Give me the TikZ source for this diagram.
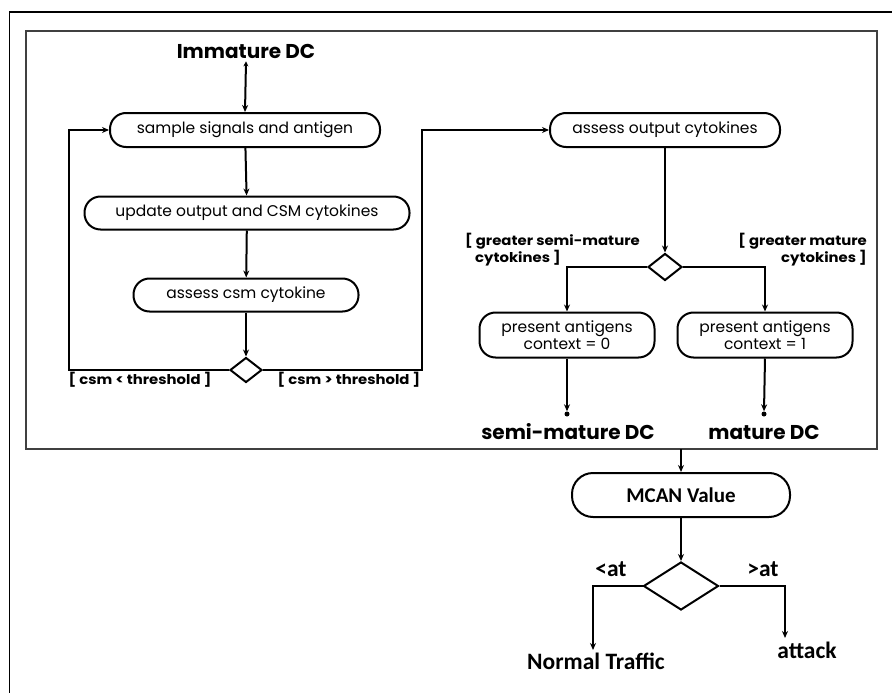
\documentclass[tikz,border=0pt]{standalone}
\usepackage{fontspec}
\usetikzlibrary{shapes.geometric,arrows.meta}
\newfontfamily\gothic{Poppins}
\newfontfamily\gothicw{Poppins}[FakeStretch=1.1]
\newfontfamily\calib{Carlito}
\begin{document}
\begin{tikzpicture}[x=1pt,y=-1pt,
  arr/.style={line width=2pt,-{Stealth[length=7pt,width=6pt]}},
  act/.style={draw,line width=2pt,rectangle,rounded corners=16pt,inner sep=0pt,
    font=\gothic\fontsize{15.5}{17}\selectfont,align=center},
  guard/.style={font=\gothicw\bfseries\fontsize{13.5}{15}\selectfont,inner sep=0pt},
  big/.style={font=\gothic\bfseries\fontsize{20}{22}\selectfont,inner sep=0pt},
  calbig/.style={font=\calib\bfseries\fontsize{23.5}{25}\selectfont,inner sep=0pt},
  dotn/.style={circle,fill,inner sep=0pt,minimum size=5pt}
]
\useasboundingbox (0,0) rectangle (892,693);
% frames
\draw[line width=1.6pt] (9.5,693) -- (9.5,12) -- (892,12);
\draw[line width=2.2pt,black!75] (26,31) rectangle (877,449);

% left column
\node[big] (imm) at (246,51) {Immature DC};
\node[act,minimum width=270pt,minimum height=34pt] (s1) at (245,130) {sample signals and antigen};
\node[act,minimum width=325pt,minimum height=33pt] (s2) at (247,213) {update output and CSM cytokines};
\node[act,minimum width=225pt,minimum height=33pt] (s3) at (246,295) {assess csm cytokine};
\node[draw,line width=2pt,diamond,inner sep=0pt,minimum width=32pt,minimum height=25pt] (d1) at (246,370) {};
\node[guard] (gl) at (140,380) {[ csm < threshold ]};
\node[guard] (gr) at (349,380) {[ csm > threshold ]};
\coordinate (lc) at (69,370);
\coordinate (rc) at (422,370);

% right column
\node[act,minimum width=230pt,minimum height=34pt] (s4) at (665,130) {assess output cytokines};
\node[draw,line width=2pt,diamond,inner sep=0pt,minimum width=34pt,minimum height=27pt] (d2) at (665,267) {};
\node[guard,align=left,anchor=north west] (g3) at (465,233) {[ greater semi-mature\\\hspace*{10pt}cytokines ]};
\node[guard,align=right,anchor=north east] (g4) at (867,233) {[ greater mature\\cytokines ]};
\node[act,minimum width=175pt,minimum height=45pt] (p0) at (567,335) {present antigens\\context = 0};
\node[act,minimum width=175pt,minimum height=45pt] (p1) at (765,335) {present antigens\\context = 1};
\node[dotn] (dot0) at (567,414) {};
\node[dotn] (dot1) at (764,414) {};
\node[big] (semi) at (568,432) {semi-mature DC};
\node[big] (mat) at (764,432) {mature DC};

\draw[line width=2pt,{Stealth[length=5pt,width=5pt]}-{Stealth[length=7pt,width=6pt]}] ([yshift=-3pt]imm.south) -- (s1.north);
\draw[arr] (s1) -- (s2);
\draw[arr] (s2) -- (s3);
\draw[arr] (s3) -- (d1);
\draw[arr] (d1.west) -- (lc) |- (s1.west);
\draw[arr] (d1.east) -- (rc) |- (s4.west);

\draw[arr] (s4) -- (d2);
\draw[arr] (d2.west) -| (p0.north);
\draw[arr] (d2.east) -| (p1.north);
\draw[arr] (p0.south) -- (dot0.north);
\draw[arr] (p1.south) -- (dot1.north);

% bottom part
\coordinate (fb) at (681,449);
\node[draw,line width=2pt,rectangle,rounded corners=21pt,minimum width=218pt,minimum height=44pt,font=\calib\bfseries\fontsize{21}{23}\selectfont] (mcan) at (681,495) {MCAN Value};
\node[draw,line width=2pt,diamond,inner sep=0pt,minimum width=75pt,minimum height=48pt] (d3) at (681,586) {};
\node[calbig] (lt) at (611,569) {<at};
\node[calbig] (gt) at (763,569) {>at};
\node[calbig] (nt) at (596,661) {Normal Traffic};
\node[calbig] (atk) at (807,650) {attack};
\coordinate (nte) at (593,650);
\coordinate (atke) at (785,638);

\draw[arr] (fb) -- (mcan.north);
\draw[arr] (mcan) -- (d3);
\draw[arr] (d3.west) -| (nte);
\draw[arr] (d3.east) -| (atke);
\end{tikzpicture}
\end{document}
